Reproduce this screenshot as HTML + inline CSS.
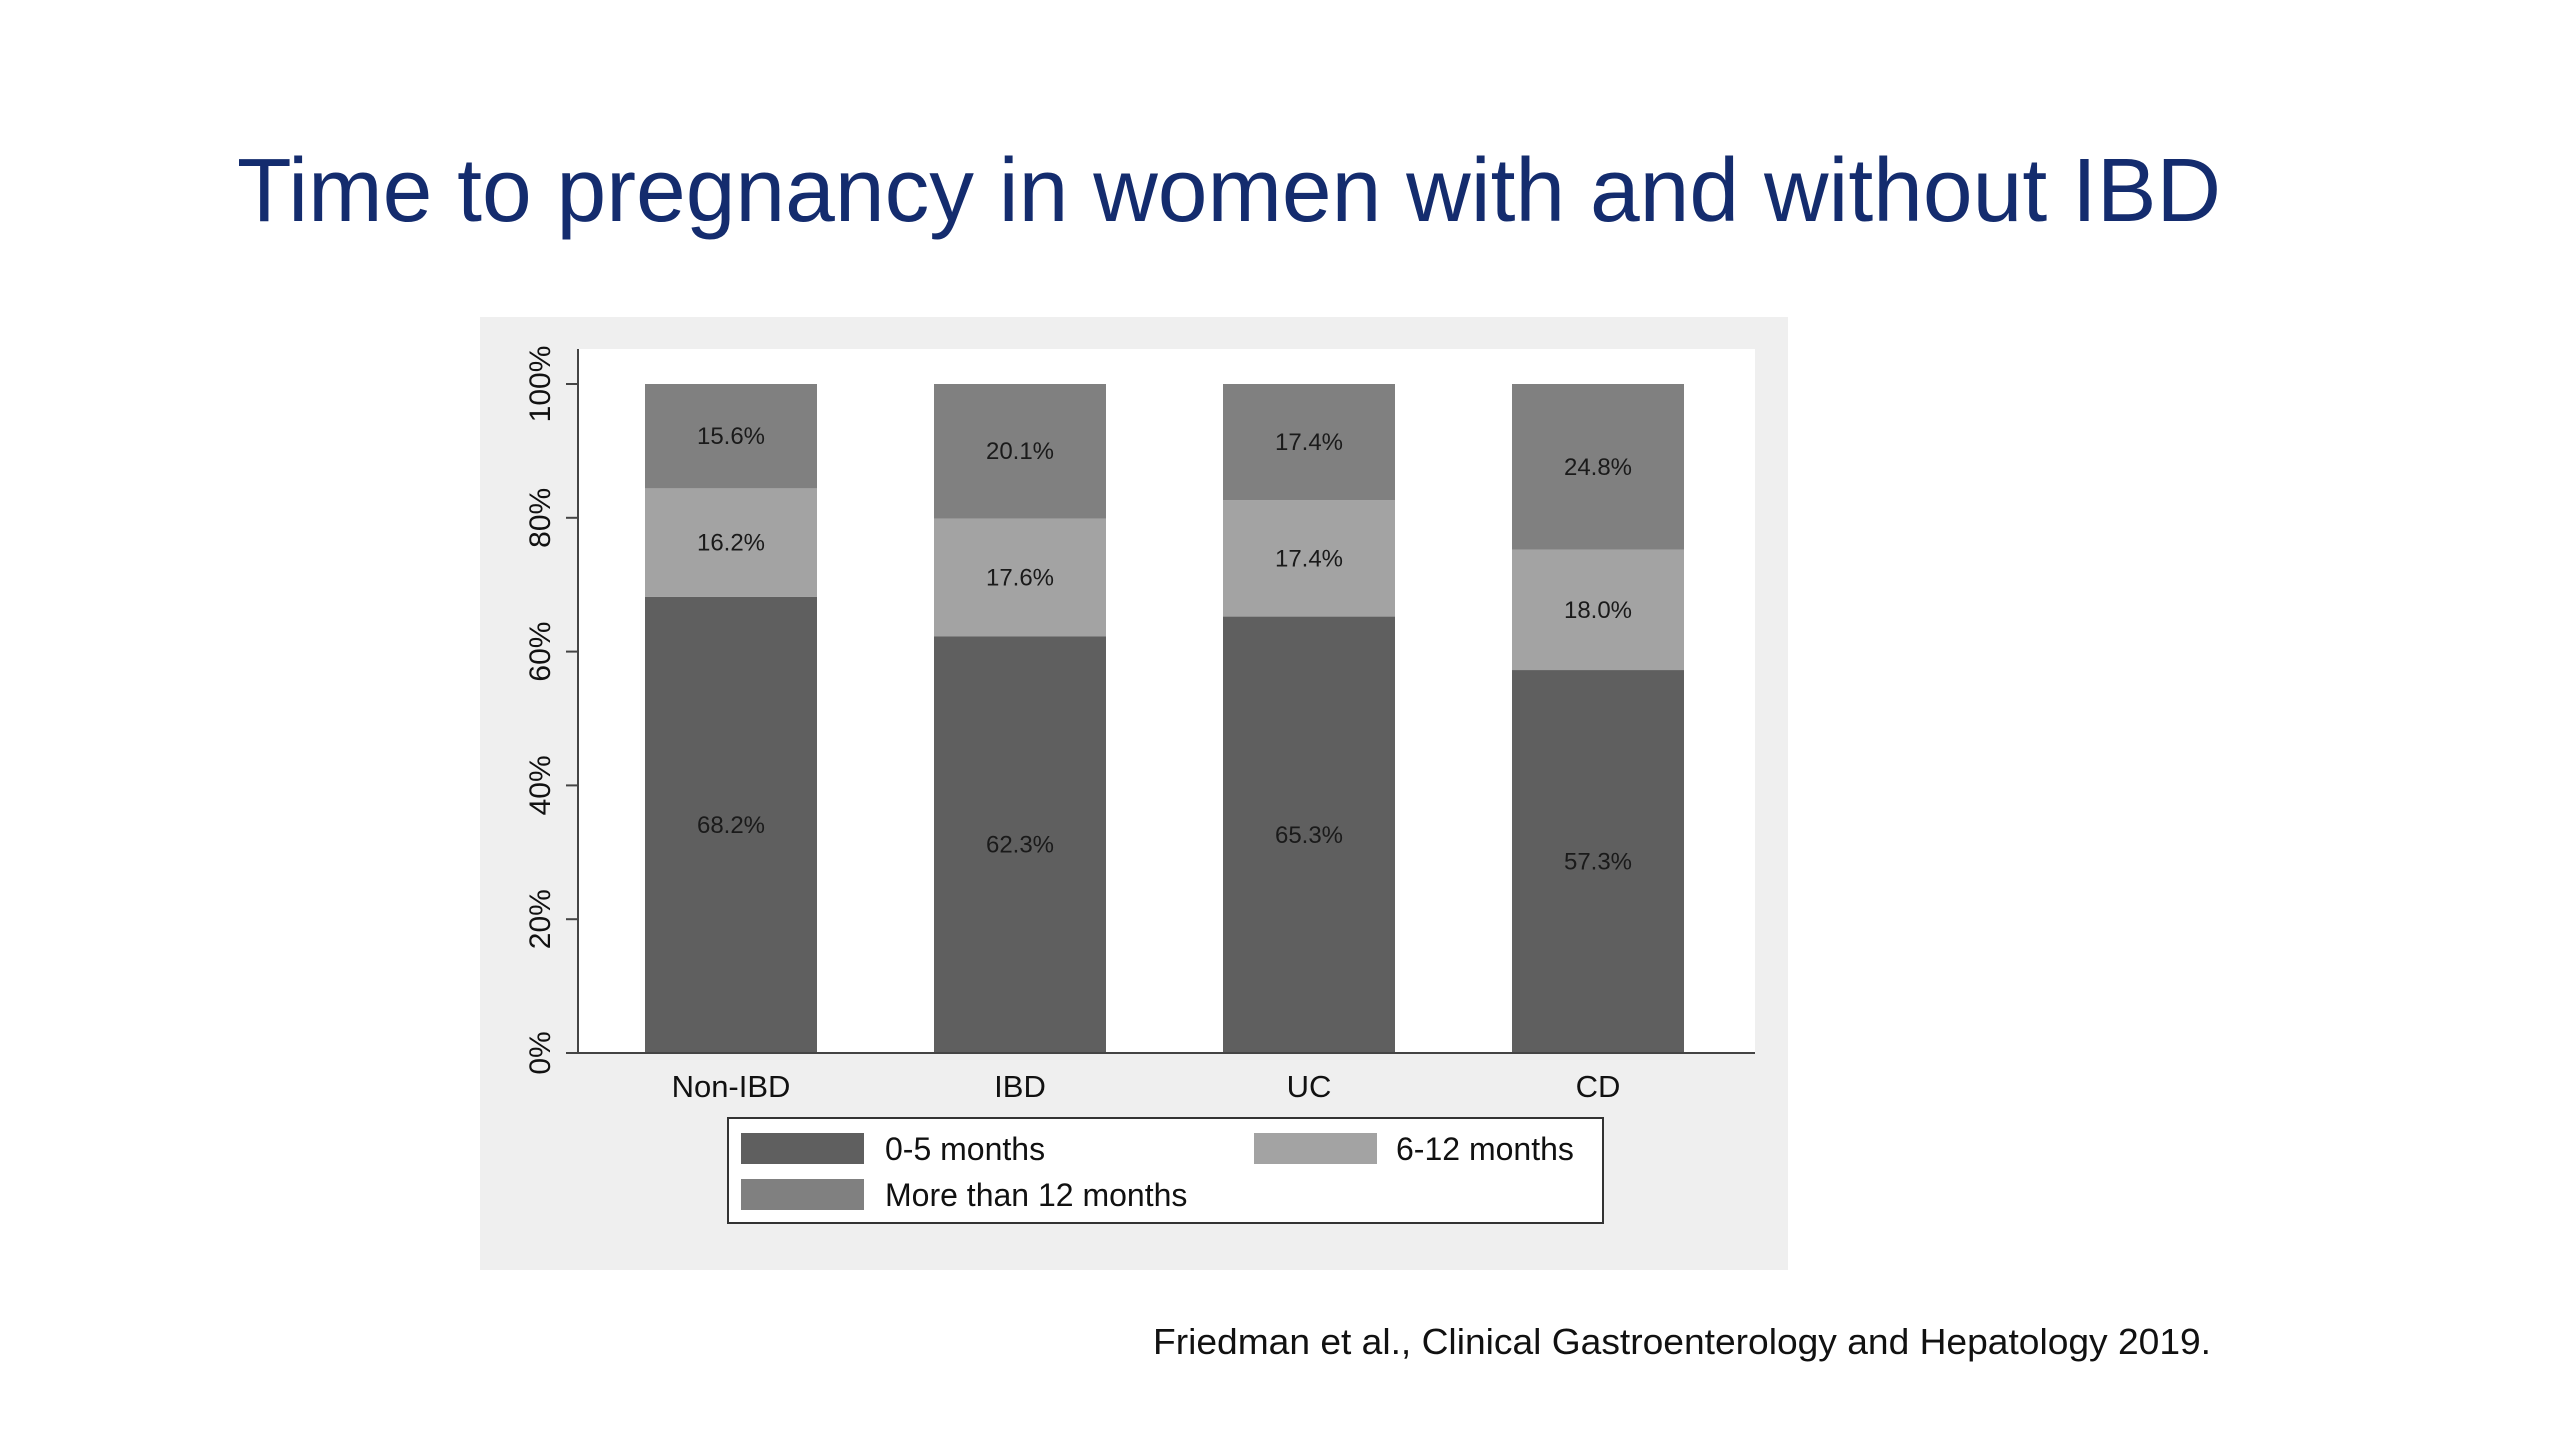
<!DOCTYPE html>
<html><head><meta charset="utf-8"><style>
html,body{margin:0;padding:0;background:#fff;width:2560px;height:1440px;overflow:hidden}
svg text{font-family:"Liberation Sans",sans-serif}
</style></head><body>
<svg width="2560" height="1440" viewBox="0 0 2560 1440">
<text x="237" y="221" font-size="90" fill="#142c6e" textLength="1984" lengthAdjust="spacingAndGlyphs">Time to pregnancy in women with and without IBD</text>
<rect x="480" y="317" width="1308" height="953" fill="#efefef"/>
<rect x="578" y="349" width="1177" height="704" fill="#ffffff"/>
<g id="bars"></g>
<g id="axes"></g>
<rect x="728" y="1118" width="875" height="105" fill="#fff" stroke="#333" stroke-width="2"/>
<rect x="741" y="1133" width="123" height="31" fill="#5f5f5f"/>
<text x="885" y="1160" font-size="32" fill="#111">0-5 months</text>
<rect x="1254" y="1133" width="123" height="31" fill="#a3a3a3"/>
<text x="1396" y="1160" font-size="32" fill="#111">6-12 months</text>
<rect x="741" y="1179" width="123" height="31" fill="#808080"/>
<text x="885" y="1206" font-size="32" fill="#111">More than 12 months</text>
<text x="1153" y="1354" font-size="36" fill="#111" textLength="1058" lengthAdjust="spacingAndGlyphs">Friedman et al., Clinical Gastroenterology and Hepatology 2019.</text>
</svg>
<script>
const categories = ["Non-IBD","IBD","UC","CD"];
const months0to5 = [68.2,62.3,65.3,57.3];
const months6to12 = [16.2,17.6,17.4,18.0];
const monthsOver12 = [15.6,20.1,17.4,24.8];
const yTicks = [0,20,40,60,80,100];

const NS="http://www.w3.org/2000/svg";
const y0=1053, yTop=384, bw=172, x0=645, step=289;
const y=v=>y0-(v/100)*(y0-yTop);
const xb=i=>x0+i*step;
const barsG=document.getElementById('bars'), axG=document.getElementById('axes');
function mk(tag,attrs,parent){const e=document.createElementNS(NS,tag);for(const k in attrs)e.setAttribute(k,attrs[k]);parent.appendChild(e);return e;}
const series=[{d:months0to5,c:"#5f5f5f",n:"0-5"},{d:months6to12,c:"#a3a3a3",n:"6-12"},{d:monthsOver12,c:"#808080",n:"12plus"}];
categories.forEach((cat,i)=>{
  let base=0;
  const tot=months0to5[i]+months6to12[i]+monthsOver12[i];
  series.forEach(s=>{
    const v=s.d[i]/tot*100;
    const r=mk('rect',{x:xb(i),y:y(base+v),width:bw,height:y(base)-y(base+v),fill:s.c},barsG);
    
    
    const t=mk('text',{x:xb(i)+bw/2,y:y(base+v/2)+8,'font-size':24,'text-anchor':'middle',fill:'#1a1a1a'},barsG);
    t.textContent=s.d[i].toFixed(1)+'%';
    
    
    base+=v;
  });
  const cl=mk('text',{x:xb(i)+bw/2,y:1097,'font-size':31,'text-anchor':'middle',fill:'#111'},axG);
  cl.textContent=cat;
  
  
});
const ax=mk('line',{x1:578,y1:y0,x2:1755,y2:y0,stroke:'#444','stroke-width':2},axG);


const ay=mk('line',{x1:578,y1:349,x2:578,y2:y0,stroke:'#444','stroke-width':2},axG);


yTicks.forEach(v=>{
  const tk=mk('line',{x1:566,y1:y(v),x2:578,y2:y(v),stroke:'#444','stroke-width':2},axG);
  
  
  const t=mk('text',{x:0,y:0,'font-size':30,'text-anchor':'middle',fill:'#111',transform:`translate(550,${y(v)}) rotate(-90)`},axG);
  t.textContent=v+'%';
  
  
});
</script>
</body></html>
